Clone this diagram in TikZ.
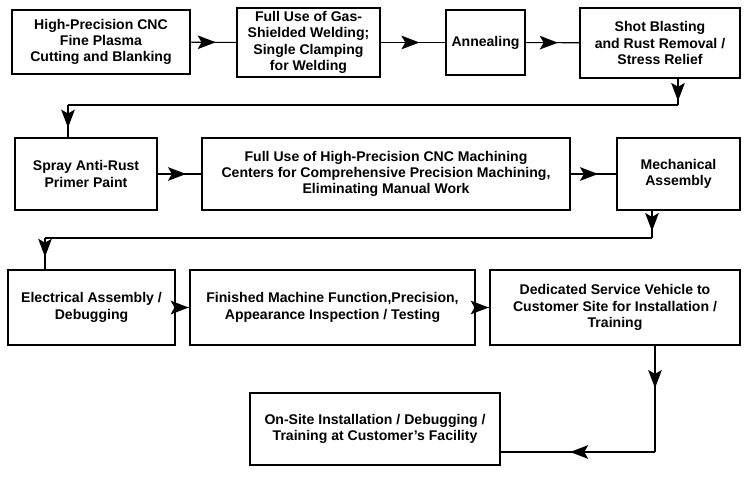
\documentclass[tikz,border=0pt]{standalone}
\usepackage{fontspec}
\setmainfont{Liberation Sans}
\usetikzlibrary{arrows.meta,decorations.markings}

\begin{document}
\begin{tikzpicture}[x=0.02cm, y=-0.02cm,
	box/.style={draw=black, line width=0.6pt, align=center, inner sep=1pt,
		font=\bfseries\fontsize{8}{9.3}\selectfont},
	flow/.style={line width=0.6pt, postaction={decorate}, decoration={markings,
		mark=at position #1 with {\arrow[scale=1.8]{Stealth[inset=1.2pt]}}}},
	flow/.default=0.5]
	\useasboundingbox (0,0) rectangle (750,487);

	% first row
	\node[box, minimum width=178*0.02cm, minimum height=64*0.02cm] (cut) at (101,42) {High-Precision CNC\\Fine Plasma\\Cutting and Blanking};
	\node[box, minimum width=143*0.02cm, minimum height=69*0.02cm] (weld) at (308.5,42.5) {Full Use of Gas-\\Shielded Welding;\\Single Clamping\\for Welding};
	\node[box, minimum width=79*0.02cm, minimum height=65*0.02cm] (anneal) at (485.5,42.5) {Annealing};
	\node[box, minimum width=160*0.02cm, minimum height=70*0.02cm] (blast) at (660,43) {Shot Blasting\\and Rust Removal /\\Stress Relief};

	% second row
	\node[box, minimum width=142*0.02cm, minimum height=72*0.02cm] (primer) at (86,174) {Spray Anti-Rust\\Primer Paint};
	\node[box, minimum width=368*0.02cm, minimum height=72*0.02cm] (machining) at (386,174) {Full Use of High-Precision CNC Machining\\Centers for Comprehensive Precision Machining,\\Eliminating Manual Work};
	\node[box, minimum width=123*0.02cm, minimum height=72*0.02cm] (mech) at (678.5,174) {Mechanical\\Assembly};

	% third row
	\node[box, minimum width=167*0.02cm, minimum height=75*0.02cm] (elec) at (91.5,307.5) {Electrical Assembly /\\Debugging};
	\node[box, minimum width=285*0.02cm, minimum height=75*0.02cm] (inspect) at (332.5,307.5) {Finished Machine Function,Precision,\\Appearance Inspection / Testing};
	\node[box, minimum width=250*0.02cm, minimum height=75*0.02cm] (vehicle) at (615,307.5) {Dedicated Service Vehicle to\\Customer Site for Installation /\\Training};

	% last row
	\node[box, minimum width=250*0.02cm, minimum height=72*0.02cm] (onsite) at (375,429) {On-Site Installation / Debugging /\\Training at Customer's Facility};

	% connectors
	\draw[flow=0.55] (cut) -- (weld);
	\draw[flow=0.6] (weld) -- (anneal);
	\draw[flow=0.6] (anneal) -- (blast);
	\coordinate (b1) at (678,105);
	\coordinate (b2) at (68,105);
	\draw[flow=0.85] (b1 |- blast.south) -- (b1);
	\draw[line width=0.6pt] (b1) -- (b2);
	\draw[flow=0.7] (b2) -- (b2 |- primer.north);

	\draw[flow=0.65] (primer) -- (machining);
	\draw[flow=0.6] (machining) -- (mech);
	\coordinate (m1) at (652,238);
	\coordinate (m2) at (45,238);
	\draw[flow=0.75] (m1 |- mech.south) -- (m1);
	\draw[line width=0.6pt] (m1) -- (m2);
	\draw[flow=0.6] (m2) -- (m2 |- elec.north);

	\draw[flow=0.95] (elec) -- (inspect);
	\draw[flow=0.95] (inspect) -- (vehicle);
	\coordinate (v1) at (655,452);
	\draw[flow=0.4] (v1 |- vehicle.south) -- (v1);
	\draw[flow=0.55] (v1) -- (v1 -| onsite.east);
\end{tikzpicture}
\end{document}
